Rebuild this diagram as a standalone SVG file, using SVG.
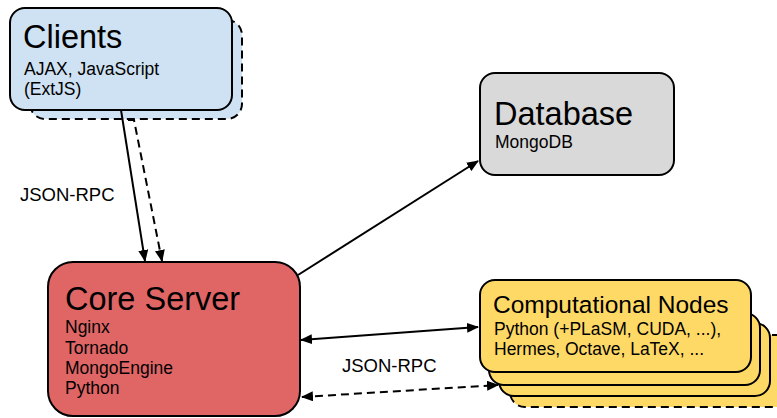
<svg xmlns="http://www.w3.org/2000/svg" width="777" height="418" viewBox="0 0 777 418">
<defs>
<marker id="ah" viewBox="0 0 12 10" refX="11" refY="5" markerWidth="12" markerHeight="10" markerUnits="userSpaceOnUse" orient="auto-start-reverse">
<path d="M0,0 L12,5 L0,10 Z" fill="#000"/>
</marker>
</defs>
<style>
.box{stroke:#000;stroke-width:2}
.dash{stroke-dasharray:8,5}
.t{font-family:"Liberation Sans",Arial,sans-serif;fill:#000}
.title{font-size:32.5px}
.sub{font-size:17.5px}
.lbl{font-size:18.5px}
.line{stroke:#000;stroke-width:2;fill:none}
</style>
<rect width="777" height="418" fill="#fff"/>
<g id="clients">
<rect class="box dash" x="30" y="20" width="212" height="99" rx="15" fill="#cfe2f3"/>
<rect class="box" x="10" y="8" width="222" height="102" rx="15" fill="#cfe2f3"/>
<text class="t title" x="23" y="48">Clients</text>
<text class="t sub" x="24" y="75">AJAX, JavaScript</text>
<text class="t sub" x="24" y="95">(ExtJS)</text>
</g>
<g id="database">
<rect class="box" x="480" y="73" width="194" height="102" rx="15" fill="#d9d9d9"/>
<text class="t title" x="494" y="125">Database</text>
<text class="t sub" x="495" y="148">MongoDB</text>
</g>
<g id="core">
<rect class="box" x="48" y="262" width="252" height="154" rx="25" fill="#e06666"/>
<text class="t title" x="65" y="310">Core Server</text>
<text class="t sub" x="65" y="333">Nginx</text>
<text class="t sub" x="65" y="354">Tornado</text>
<text class="t sub" x="65" y="374">MongoEngine</text>
<text class="t sub" x="65" y="394">Python</text>
</g>
<g id="computational-nodes">
<rect class="box dash" x="510" y="335" width="285" height="72" rx="15" fill="#ffd966"/>
<rect class="box" x="499" y="323" width="271" height="73" rx="15" fill="#ffd966"/>
<rect class="box" x="489" y="313" width="271" height="72" rx="15" fill="#ffd966"/>
<rect class="box" x="480" y="280" width="271" height="92" rx="15" fill="#ffd966"/>
<text class="t" x="493" y="313" font-size="24.5">Computational Nodes</text>
<text class="t sub" x="494" y="335">Python (+PLaSM, CUDA, ...),</text>
<text class="t sub" x="494" y="355">Hermes, Octave, LaTeX, ...</text>
</g>
<g id="connectors">
<line class="line" x1="121" y1="110" x2="145" y2="261" marker-end="url(#ah)"/>
<path class="line dash" d="M128,120 L134,120 L162,261" marker-end="url(#ah)"/>
<line class="line" x1="298" y1="275" x2="478" y2="161" marker-end="url(#ah)"/>
<line class="line" x1="301" y1="340" x2="478" y2="327" marker-start="url(#ah)" marker-end="url(#ah)"/>
<line class="line dash" x1="302" y1="397" x2="498" y2="385" marker-start="url(#ah)" marker-end="url(#ah)"/>
<text class="t lbl" x="20" y="201">JSON-RPC</text>
<text class="t lbl" x="342" y="372">JSON-RPC</text>
</g>
</svg>
